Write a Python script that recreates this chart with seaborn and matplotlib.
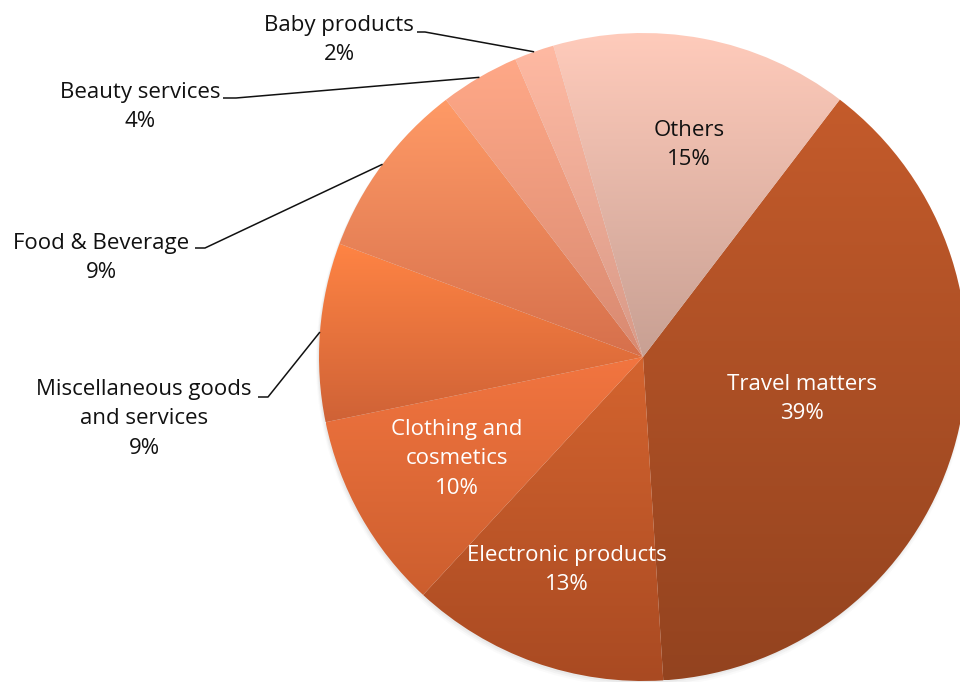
import matplotlib.pyplot as plt
import matplotlib.colors as mcolors
import numpy as np
import seaborn as sns

# slice data, clockwise from the top-right edge
categories = ["Travel matters", "Electronic products", "Clothing and\ncosmetics",
              "Miscellaneous goods\nand services", "Food & Beverage",
              "Beauty services", "Baby products", "Others"]
shares = [39, 13, 10, 9, 9, 4, 2, 15]
pct_labels = ["39%", "13%", "10%", "9%", "9%", "4%", "2%", "15%"]

# vertical gradient per slice (top colour, bottom colour)
top_colors = ["#C45B2B", "#D4642F", "#F27540", "#FF8444", "#FF9A66",
              "#FFA887", "#FFB9A2", "#FFCBBB"]
bottom_colors = ["#93431F", "#A94A22", "#CC5E2E", "#CF6236", "#D6704C",
                 "#D88A72", "#D89A88", "#C8A093"]

sns.set_theme(style="white")
plt.rcParams["font.family"] = ["Open Sans", "DejaVu Sans"]

W, H = 960, 682
fig = plt.figure(figsize=(W / 100, H / 100), dpi=100)
ax = fig.add_axes([0, 0, 1, 1])

cx, cy, r = 643, H - 357, 324

# soft shadow under the pie
for k, a in enumerate([0.07, 0.05, 0.03]):
    ax.add_patch(plt.Circle((cx - 1, cy - 2 - k), r + k, color="#707070",
                            alpha=a, lw=0, zorder=0))

wedges, _ = ax.pie(shares, center=(cx, cy), radius=r, startangle=52.6,
                   counterclock=False, frame=True,
                   wedgeprops=dict(linewidth=0, edgecolor="none"))

for w, c_top, c_bot in zip(wedges, top_colors, bottom_colors):
    t = np.radians(np.linspace(w.theta1, w.theta2, 100))
    xs = np.concatenate([[cx], cx + r * np.cos(t)])
    ys = np.concatenate([[cy], cy + r * np.sin(t)])
    c0 = np.array(mcolors.to_rgb(c_bot))
    c1 = np.array(mcolors.to_rgb(c_top))
    f = np.linspace(0, 1, 256)[:, None]
    grad = (c0 + (c1 - c0) * f)[:, None, :]
    w.set_facecolor("none")
    im = ax.imshow(grad, extent=[xs.min(), xs.max(), ys.min(), ys.max()],
                   origin="lower", aspect="auto", interpolation="bilinear",
                   zorder=1)
    im.set_clip_path(w)

ax.set_xlim(0, W)
ax.set_ylim(0, H)
ax.set_aspect("equal")
ax.axis("off")

fs = 16
ls = 1.55
inside = {0: ((802, 399), "white"), 1: ((567, 570), "white"),
          2: ((457, 459), "white"), 7: ((689, 145), "#111111")}
for i, ((px, py), col) in inside.items():
    ax.text(px, H - py, f"{categories[i]}\n{pct_labels[i]}", ha="center",
            va="center", color=col, fontsize=fs, linespacing=ls, zorder=3)

# outside labels: text centre, leader start (text side), elbow
outside = {6: ((339, 40), (417, 32), (425, 32)),
           5: ((140, 107), (223, 98), (236, 98)),
           4: ((101, 258), (195, 248), (205, 248)),
           3: ((144, 419), (258, 397), (268, 397))}
cum = np.cumsum([0] + shares)
total = cum[-1]
for i, ((px, py), p0, p1) in outside.items():
    ax.text(px, H - py, f"{categories[i]}\n{pct_labels[i]}", ha="center",
            va="center", color="#111111", fontsize=fs, linespacing=ls,
            zorder=3)
    mid = np.radians(52.6 - 360 * (cum[i] + shares[i] / 2) / total)
    ex, ey = cx + r * np.cos(mid), cy + r * np.sin(mid)
    ax.plot([p0[0], p1[0], ex], [H - p0[1], H - p1[1], ey], color="#111111",
            lw=1.1, zorder=3, solid_capstyle="butt")

fig.savefig("out.png", dpi=100)
